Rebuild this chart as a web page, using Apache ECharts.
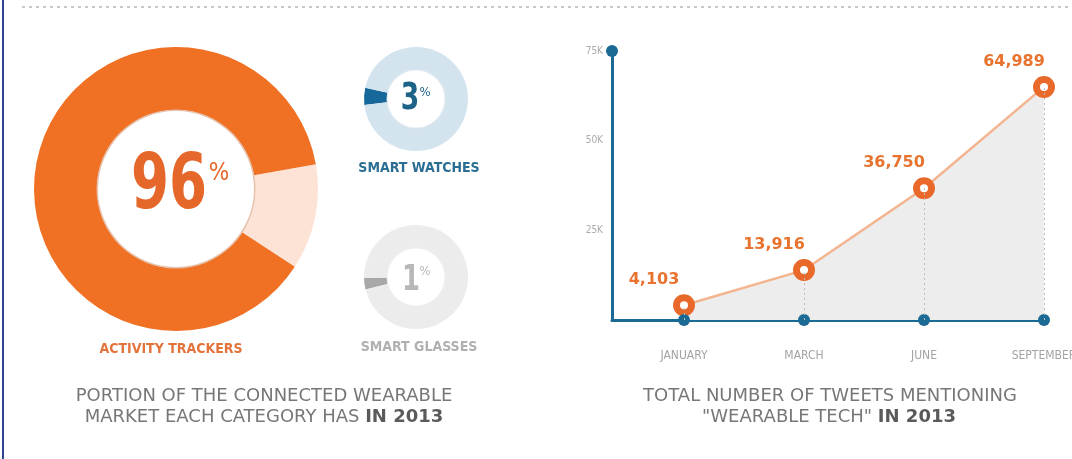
<!DOCTYPE html>
<html>
<head>
<meta charset="utf-8">
<script src="https://cdn.jsdelivr.net/npm/echarts@6/dist/echarts.min.js"></script>
<style>
html,body{margin:0;padding:0;background:#fff;}
#chart{width:1072px;height:459px;}
</style>
</head>
<body>
<div id="chart"></div>
<script>
// ---- data ----
const marketCategories = ['ACTIVITY TRACKERS', 'SMART WATCHES', 'SMART GLASSES'];
const marketShares = [96, 3, 1];                 // printed shares (%)
const marketArcShares = [88, 5.3, 3.6];          // arc sizes as drawn in the picture (%)
const tweetMonths = ['JANUARY', 'MARCH', 'JUNE', 'SEPTEMBER'];
const tweetCounts = [4103, 13916, 36750, 64989];
const yTickLabels = ['25K', '50K', '75K'];

const fmt = v => String(v).replace(/\B(?=(\d{3})+(?!\d))/g, ',');

const chart = echarts.init(document.getElementById('chart'), null, {renderer: 'canvas'});

const orange = '#e8692a';
const blue = '#1b6a96';

function ringPie(center, radius, start, slice, rest, colSlice, colRest) {
  return {
    type: 'pie', silent: true, center: center, radius: radius,
    startAngle: start, clockwise: true, label: {show: false}, labelLine: {show: false},
    data: [
      {value: slice, itemStyle: {color: colSlice}},
      {value: rest, itemStyle: {color: colRest}}
    ]
  };
}

const xIdx = tweetMonths.map((m, i) => i);

const option = {
  animation: false,
  grid: {left: 612, right: 28, top: 51, bottom: 139, containLabel: false, outerBoundsMode: 'none'},
  xAxis: {
    type: 'value', min: -0.6, max: tweetMonths.length - 1,
    axisLine: {show: true, onZero: false, lineStyle: {color: blue, width: 3}},
    axisTick: {show: false},
    splitLine: {show: false},
    axisLabel: {
      customValues: xIdx,
      formatter: v => tweetMonths[Math.round(v)] || '',
      color: '#a3a3a3', fontSize: 12, fontFamily: 'DejaVu Sans Condensed', margin: 30
    }
  },
  yAxis: {
    type: 'value', min: 0, max: 75000, interval: 25000,
    axisLine: {show: true, onZero: false, lineStyle: {color: blue, width: 3}, symbol: ['none', 'circle'], symbolSize: [12, 12], symbolOffset: [0, 0]},
    axisTick: {show: false},
    splitLine: {show: false},
    axisLabel: {
      formatter: v => v === 0 ? '' : yTickLabels[v / 25000 - 1],
      color: '#aaaaaa', fontSize: 10, fontFamily: 'DejaVu Sans Condensed', margin: 9
    }
  },
  series: [
    // big donut: activity trackers
    {
      type: 'pie', silent: true, center: [176, 189], radius: [79, 142],
      startAngle: 10, clockwise: true, label: {show: false}, labelLine: {show: false},
      data: [
        {value: 100 - marketArcShares[0], itemStyle: {color: '#fde3d6'}},
        {value: marketArcShares[0], itemStyle: {color: '#f07024'}}
      ]
    },
    {type: 'pie', silent: true, center: [176, 189], radius: [78, 79.5], label: {show: false},
     data: [{value: 1, itemStyle: {color: '#e6c2ad'}}]},
    ringPie([416, 99], [29, 52], 186.5, marketArcShares[1], 100 - marketArcShares[1], '#16679a', '#d4e4ee'),
    ringPie([416, 277], [29, 52], 194, marketArcShares[2], 100 - marketArcShares[2], '#a8a8a8', '#ececec'),
    {type: 'pie', silent: true, center: [416, 99], radius: [28.5, 29.5], label: {show: false},
     data: [{value: 1, itemStyle: {color: '#e3ecf1'}}]},
    {type: 'pie', silent: true, center: [416, 277], radius: [28.5, 29.5], label: {show: false},
     data: [{value: 1, itemStyle: {color: '#f0f0f0'}}]},
    // line chart
    {
      type: 'line', clip: false, z: 3,
      data: tweetCounts.map((v, i) => [i, v]),
      lineStyle: {color: '#f3b48f', width: 2.5},
      areaStyle: {color: '#ededed', opacity: 1, origin: 'start'},
      symbol: 'circle', symbolSize: 15,
      itemStyle: {color: '#fff', borderColor: orange, borderWidth: 7},
      label: {
        show: true, position: 'top', distance: 6, offset: [-30, 0],
        formatter: p => fmt(p.value[1]),
        color: '#e8732e', fontSize: 16, fontWeight: 'bold', fontFamily: 'DejaVu Sans'
      },
      markLine: {
        silent: true, symbol: 'none', label: {show: false},
        lineStyle: {color: '#bdbdbd', type: [2, 3], width: 1},
        data: tweetCounts.map((v, i) => [{coord: [i, 0]}, {coord: [i, v]}])
      }
    },
    {
      type: 'scatter', clip: false, z: 4, silent: true,
      data: xIdx.map(i => [i, 0]),
      symbolSize: 12, itemStyle: {color: blue, opacity: 1}
    }
  ],
  graphic: [
    // page decorations
    {type: 'line', shape: {x1: 3, y1: 0, x2: 3, y2: 459}, style: {stroke: '#2b4590', lineWidth: 2}},
    {type: 'line', shape: {x1: 22, y1: 7, x2: 1072, y2: 7}, style: {stroke: '#c8c8c8', lineWidth: 2, lineDash: [3, 4]}},
    // donut centre values
    {type: 'text', x: 169, y: 188, scaleX: 0.72, style: {text: String(marketShares[0]), fill: '#e5682a', fontSize: 76, fontWeight: 'bold', fontFamily: 'DejaVu Sans', align: 'center', verticalAlign: 'middle'}},
    {type: 'text', x: 219, y: 174, style: {text: '%', fill: '#e5682a', fontSize: 24, fontFamily: 'DejaVu Sans Condensed', align: 'center', verticalAlign: 'middle'}},
    {type: 'text', x: 410, y: 99, scaleX: 0.72, style: {text: String(marketShares[1]), fill: '#1d6388', fontSize: 37, fontWeight: 'bold', fontFamily: 'DejaVu Sans', align: 'center', verticalAlign: 'middle'}},
    {type: 'text', x: 425, y: 93, style: {text: '%', fill: '#1d6388', fontSize: 13, fontFamily: 'DejaVu Sans Condensed', align: 'center', verticalAlign: 'middle'}},
    {type: 'text', x: 411, y: 281, scaleX: 0.72, style: {text: String(marketShares[2]), fill: '#b8b8b8', fontSize: 36, fontWeight: 'bold', fontFamily: 'DejaVu Sans', align: 'center', verticalAlign: 'middle'}},
    {type: 'text', x: 425, y: 272, style: {text: '%', fill: '#b8b8b8', fontSize: 13, fontFamily: 'DejaVu Sans Condensed', align: 'center', verticalAlign: 'middle'}},
    // category names
    {type: 'text', x: 171, y: 349, style: {text: marketCategories[0], fill: '#e3733a', fontSize: 14, fontWeight: 'bold', fontFamily: 'DejaVu Sans Condensed', align: 'center', verticalAlign: 'middle'}},
    {type: 'text', x: 419, y: 168, style: {text: marketCategories[1], fill: '#2c6e93', fontSize: 14, fontWeight: 'bold', fontFamily: 'DejaVu Sans Condensed', align: 'center', verticalAlign: 'middle'}},
    {type: 'text', x: 419, y: 347, style: {text: marketCategories[2], fill: '#b0b0b0', fontSize: 14, fontWeight: 'bold', fontFamily: 'DejaVu Sans Condensed', align: 'center', verticalAlign: 'middle'}},
    // captions
    {type: 'text', x: 264, y: 396, style: {text: 'PORTION OF THE CONNECTED WEARABLE', fill: '#777', fontSize: 18, fontFamily: 'DejaVu Sans', align: 'center', verticalAlign: 'middle'}},
    {type: 'text', x: 264, y: 417, style: {
      text: '{n|MARKET EACH CATEGORY HAS }{b|IN 2013}',
      align: 'center', verticalAlign: 'middle',
      rich: {n: {fill: '#777', fontSize: 18, fontFamily: 'DejaVu Sans'}, b: {fill: '#5a5a5a', fontSize: 18, fontWeight: 'bold', fontFamily: 'DejaVu Sans'}}
    }},
    {type: 'text', x: 830, y: 396, style: {text: 'TOTAL NUMBER OF TWEETS MENTIONING', fill: '#777', fontSize: 18, fontFamily: 'DejaVu Sans', align: 'center', verticalAlign: 'middle'}},
    {type: 'text', x: 829, y: 417, style: {
      text: '{n|"WEARABLE TECH" }{b|IN 2013}',
      align: 'center', verticalAlign: 'middle',
      rich: {n: {fill: '#777', fontSize: 18, fontFamily: 'DejaVu Sans'}, b: {fill: '#5a5a5a', fontSize: 18, fontWeight: 'bold', fontFamily: 'DejaVu Sans'}}
    }}
  ]
};
chart.setOption(option);
</script>
</body>
</html>
